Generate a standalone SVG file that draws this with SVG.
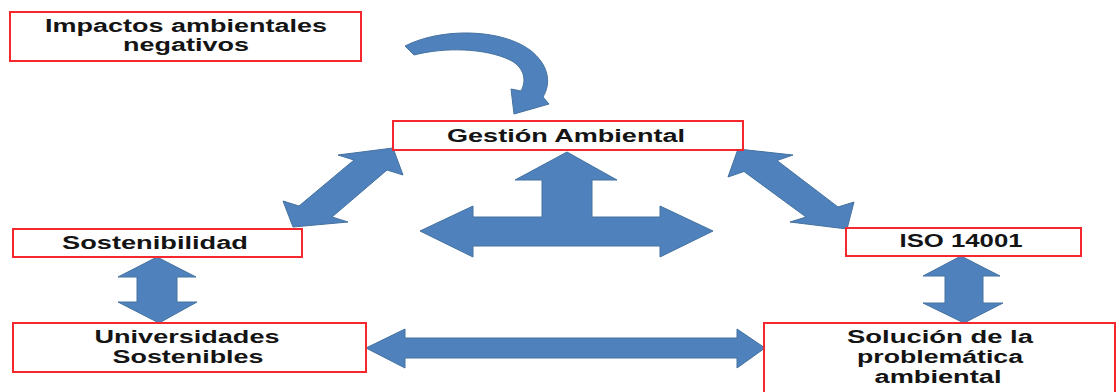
<svg xmlns="http://www.w3.org/2000/svg" width="1117" height="392" viewBox="0 0 1117 392">
<style>
.box{fill:#ffffff;stroke:#f5282d;stroke-width:2}
.arr{fill:#4f81bd;stroke:#44729f;stroke-width:1;stroke-linejoin:miter}
.t{font-family:"Liberation Sans",Arial,sans-serif;font-weight:bold;font-size:18px;fill:#141414;text-anchor:middle}
</style>
<rect width="1117" height="392" fill="#ffffff"/>
<g id="connectors">
<path class="arr" d="M405,46 C440,28 500,28 530,50 C548,64 552,82 543,97 L549,104 L514,114 L511,89 L521,91 C528,78 522,66 510,60 C485,48 445,47 414,55 Z"/>
<polygon class="arr" points="293,227 348,222 332,217 387,170 403,175 393,148 338,155 354,160 299,206 283,201"/>
<polygon class="arr" points="738,149 793,155 777,160.5 838,207 854,202 847,229 790,222 806,217 744,171.5 728,177"/>
<polygon class="arr" points="567,152 617,180 592,180 592,217 660,217 660,206 713,231 660,257 660,246 473,246 473,257 420,231 473,206 473,217 542,217 542,180 515,180"/>
<polygon class="arr" points="157,257 196,277 177,277 177,302 197,302 159,323 118,302 137,302 137,277 118,277"/>
<polygon class="arr" points="961,256 1000,276 983,276 983,303 1003,303 964,323 923,303 945,303 945,276 923,276"/>
<polygon class="arr" points="366,348 405,329 405,338 737,338 737,329 765,348 737,368 737,358 405,358 405,368"/>
</g>
<g id="impactos">
<rect class="box" x="10" y="12" width="351" height="49"/>
<text class="t" x="186" y="32" textLength="282" lengthAdjust="spacingAndGlyphs">Impactos ambientales</text>
<text class="t" x="186" y="51" textLength="126" lengthAdjust="spacingAndGlyphs">negativos</text>
</g>
<g id="gestion">
<rect class="box" x="393" y="121" width="350" height="29"/>
<text class="t" x="566" y="142" textLength="238" lengthAdjust="spacingAndGlyphs">Gestión Ambiental</text>
</g>
<g id="sostenibilidad">
<rect class="box" x="13" y="229" width="289" height="28"/>
<text class="t" x="155" y="249" textLength="186" lengthAdjust="spacingAndGlyphs">Sostenibilidad</text>
</g>
<g id="iso">
<rect class="box" x="846" y="228" width="235" height="28"/>
<text class="t" x="961" y="247" textLength="123" lengthAdjust="spacingAndGlyphs">ISO 14001</text>
</g>
<g id="universidades">
<rect class="box" x="13" y="323" width="353" height="49"/>
<text class="t" x="187" y="343" textLength="185" lengthAdjust="spacingAndGlyphs">Universidades</text>
<text class="t" x="188" y="363" textLength="151" lengthAdjust="spacingAndGlyphs">Sostenibles</text>
</g>
<g id="solucion">
<rect class="box" x="764" y="323" width="351" height="80"/>
<text class="t" x="940" y="343" textLength="186" lengthAdjust="spacingAndGlyphs">Solución de la</text>
<text class="t" x="940" y="363" textLength="166" lengthAdjust="spacingAndGlyphs">problemática</text>
<text class="t" x="938" y="383" textLength="127" lengthAdjust="spacingAndGlyphs">ambiental</text>
</g>
</svg>
